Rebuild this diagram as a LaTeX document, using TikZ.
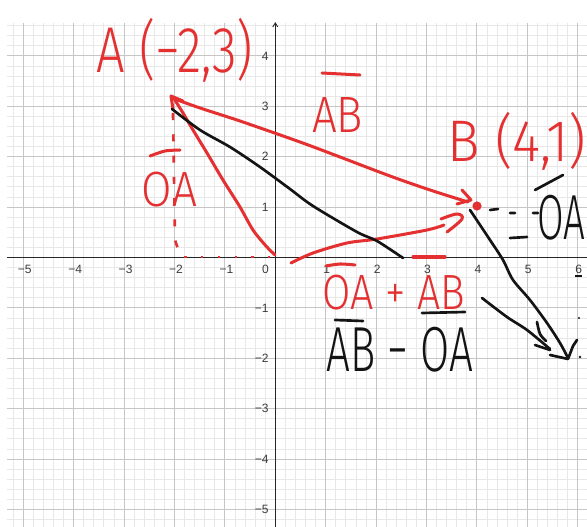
\documentclass[tikz,border=0pt]{standalone}
\usepackage{fontspec}
\setmainfont{Liberation Sans}
\newfontfamily\handfont{Fira Sans Light}
\usepackage{graphicx}
\definecolor{pen}{RGB}{228,48,48}
\definecolor{ink}{RGB}{20,20,20}
\definecolor{major}{RGB}{198,198,198}
\definecolor{minor}{RGB}{232,232,232}
\definecolor{ticktext}{RGB}{60,60,60}
\newlength\pxu \setlength\pxu{0.019841cm}
\begin{document}
\begin{tikzpicture}[x=0.019841cm,y=-0.019841cm,
  redpen/.style={draw=pen, line width=1.7pt, line cap=round, line join=round},
  blackpen/.style={draw=ink, line width=1.5pt, line cap=round, line join=round},
  hw/.style={inner sep=0pt, outer sep=0pt, font=\handfont},
  ticklbl/.style={font=\fontsize{6.8}{8}\selectfont, text=ticktext, inner sep=0pt},
  minorline/.style={draw=minor, line width=0.5pt},
  majorline/.style={draw=major, line width=0.6pt},
  axisline/.style={draw=black!85, line width=0.8pt}]
\useasboundingbox (0,0) rectangle (587,527);
\clip (0,0) rectangle (587,527);
\fill[white] (0,0) rectangle (587,527);
% minor grid
\foreach \i in {-26,...,30} { \draw[minorline] ({275.3+10.08*\i},23) -- ({275.3+10.08*\i},527); }
\foreach \j in {-26,...,23} { \draw[minorline] (7,{257.5-10.08*\j}) -- (587,{257.5-10.08*\j}); }
% major grid
\foreach \i in {-5,...,6} { \draw[majorline] ({275.3+50.4*\i},23) -- ({275.3+50.4*\i},527); }
\foreach \j in {-5,...,4} { \draw[majorline] (7,{257.5-50.4*\j}) -- (587,{257.5-50.4*\j}); }
% axes
\draw[axisline] (7,257.5) -- (587,257.5);
\draw[axisline] (275.3,23) -- (275.3,527);
\draw[draw=black!85, line width=0.5pt] (272.8,27) -- (275.3,23) -- (277.8,27);
% tick labels
\foreach \v/\s in {-5/5,-4/4,-3/3,-2/2,-1/1} { \node[ticklbl] (xn\s) at ({275.3+50.4*\v+1.5},269) {−\s}; }
\foreach \v in {1,...,6} { \node[ticklbl] (xp\v) at ({275.3+50.4*\v+1},269) {\v}; }
\node[ticklbl] (zero) at (265.5,269) {0};
\foreach \v in {1,...,4} { \node[ticklbl, anchor=east] (yp\v) at (269,{257.5-50.4*\v}) {\v}; }
\foreach \v/\s in {-1/1,-2/2,-3/3,-4/4,-5/5} { \node[ticklbl, anchor=east] (yn\s) at (269,{257.5-50.4*\v}) {−\s}; }
\draw[ink, line width=0.9pt] (575,276) -- (582,276);
% dashed projection of A
\draw[pen, line width=1.5pt, dash pattern=on 4pt off 8pt] (173,113) -- (175,240) -- (180,255);
\draw[pen, line width=1.5pt, dash pattern=on 1.5pt off 8pt] (184,257) -- (270,257);
% OA vector (red)
\draw[redpen] plot[smooth,tension=0.5] coordinates {(275,255) (266,246) (253,230) (240,207) (223,180) (207,153) (193,130) (183,113) (173,97)};
\draw[redpen] (183,101) -- (171,96) -- (173,109);
% AB vector (red)
\draw[redpen] plot[smooth,tension=0.5] coordinates {(172,98) (200,108) (240,121) (300,142) (340,157) (390,176) (430,190) (468,202)};
\draw[redpen] (462,190) -- (471,200) -- (457,204);
\fill[pen] (477,206) circle (2.6pt);
% O to B (red)
\draw[redpen] plot[smooth,tension=0.5] coordinates {(291,263) (313,253) (347,243) (377,239) (427,230) (444,225)};
\draw[redpen] plot[smooth,tension=0.6] coordinates {(441,219) (457,214) (462,219) (447,232)};
% black line from A
\draw[blackpen] plot[smooth,tension=0.5] coordinates {(172,109) (200,130) (230,147) (260,167) (290,189) (313,206) (357,232) (377,241) (403,258)};
% black arrow from B downward
\draw[blackpen] plot[smooth,tension=0.5] coordinates {(470,210) (490,240) (503,260) (513,280) (530,300) (547,323) (560,343) (568,358)};
\draw[blackpen] (550,355) -- (568,359) -- (573,346) -- (577,340);
% black arrow from the sum label
\draw[blackpen] plot[smooth,tension=0.5] coordinates {(482,298) (507,317) (527,330) (550,349)};
\draw[blackpen] plot[smooth] coordinates {(537,322) (540,334) (546,341)};
\draw[blackpen] (535,345) -- (550,350);
\fill[ink] (579,318) circle (0.7pt);
\fill[ink] (580,357) circle (0.8pt);
% black dashes from B and minus sign
\draw[blackpen] (490,210) -- (498,209) (510,213) -- (515,213) (533,213) -- (538,213);
\draw[blackpen] (510,238) -- (527,237);
\draw[blackpen] (535,190) -- (563,175);
% vector bars
\draw[redpen] (322,73) -- (360,75);
\draw[redpen] plot[smooth] coordinates {(150,156) (165,151) (180,150)};
\draw[redpen] plot[smooth] coordinates {(326,266) (340,264) (355,265)};
\draw[redpen] (413,257) -- (445,257);
\draw[blackpen] (335,320) -- (363,321);
\draw[blackpen] (422,313) -- (465,312);
% labels
\node[hw,text=pen] (labA) at (175,50) {\resizebox*{156\pxu}{64\pxu}{A (−2,3)}};
\node[hw,text=pen] (labAB) at (337.5,115.5) {\resizebox*{51\pxu}{35\pxu}{AB}};
\node[hw,text=pen] (labB) at (517,141) {\resizebox*{138\pxu}{58\pxu}{B (4,1)}};
\node[hw,text=pen] (labOA) at (169.5,189.5) {\resizebox*{55\pxu}{35\pxu}{OA}};
\node[hw,text=pen] (labSum) at (394,293) {\resizebox*{142\pxu}{35\pxu}{OA + AB}};
\node[hw,text=ink] (labDiff) at (400,349.5) {\resizebox*{146\pxu}{45\pxu}{AB − OA}};
\node[hw,text=ink] (labNeg) at (561,217.5) {\resizebox*{48\pxu}{45\pxu}{OA}};
\end{tikzpicture}
\end{document}
